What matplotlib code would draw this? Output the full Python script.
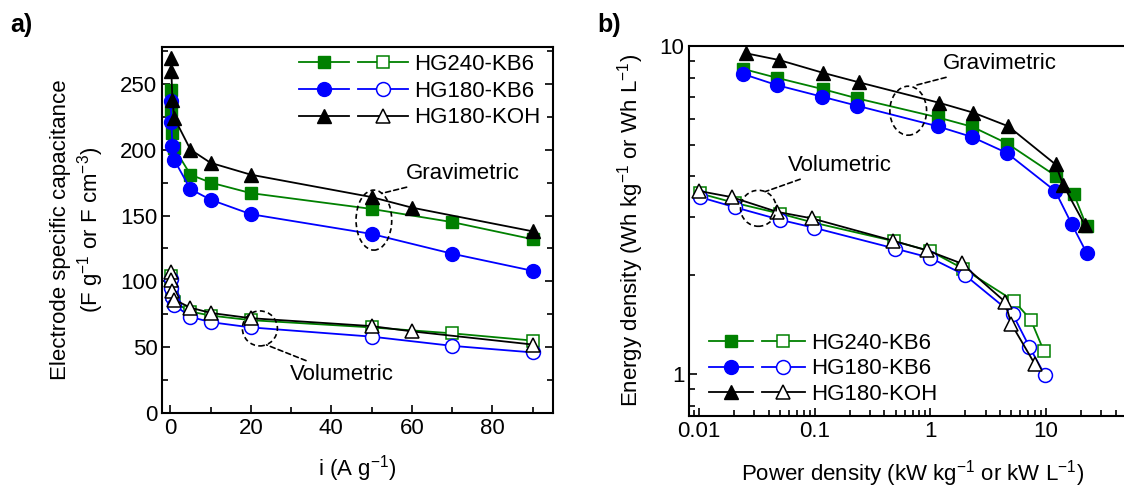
import matplotlib
matplotlib.use('Agg')
import matplotlib.pyplot as plt
from matplotlib.lines import Line2D
from matplotlib.legend_handler import HandlerTuple
from matplotlib.patches import Ellipse
from matplotlib.ticker import MultipleLocator, FuncFormatter

plt.rcParams['font.family'] = ['Liberation Sans', 'DejaVu Sans']
plt.rcParams['mathtext.default'] = 'regular'
plt.rcParams['font.size'] = 16

# ---- panel a: capacitance vs current density ----
i_kb6 = [0.1, 0.25, 0.5, 1, 5, 10, 20, 50, 70, 90]
i_koh = [0.1, 0.25, 0.5, 1, 5, 10, 20, 50, 60, 90]

grav_hg240 = [245, 230, 213, 201, 181, 175, 167, 155, 145, 132]
grav_hg180 = [237, 221, 203, 192, 170, 162, 151, 136, 121, 108]
grav_koh = [270, 260, 238, 224, 200, 190, 181, 164, 156, 138]

vol_hg240 = [104, 98, 90, 84, 77, 74, 70.5, 65, 60.5, 55]
vol_hg180 = [102, 95, 88, 82, 73, 69, 65, 58, 51, 46]
vol_koh = [107, 101, 93, 86, 80, 76, 72, 66, 62, 52]

# ---- panel b: Ragone plot ----
p_grav_hg240 = [0.024, 0.0467, 0.118, 0.233, 1.15, 2.30, 4.62, 12.2, 17.4, 22.4]
e_grav_hg240 = [8.51, 8.0, 7.38, 6.92, 6.06, 5.67, 5.04, 4.01, 3.53, 2.82]
p_grav_hg180 = [0.024, 0.0467, 0.116, 0.233, 1.15, 2.28, 4.57, 12.0, 16.6, 22.4]
e_grav_hg180 = [8.21, 7.60, 7.0, 6.57, 5.69, 5.28, 4.72, 3.61, 2.87, 2.34]
p_grav_koh = [0.0254, 0.0492, 0.118, 0.240, 1.19, 2.35, 4.71, 12.1, 14.1, 21.7]
e_grav_koh = [9.5, 9.06, 8.28, 7.75, 6.71, 6.26, 5.69, 4.35, 3.76, 2.84]

p_vol_hg240 = [0.0101, 0.0204, 0.050, 0.098, 0.48, 0.99, 1.93, 5.26, 7.38, 9.6]
e_vol_hg240 = [3.55, 3.32, 3.08, 2.89, 2.54, 2.37, 2.09, 1.67, 1.46, 1.17]
p_vol_hg180 = [0.0101, 0.0204, 0.050, 0.098, 0.493, 0.99, 1.99, 5.14, 7.16, 9.78]
e_vol_hg180 = [3.46, 3.22, 2.95, 2.79, 2.41, 2.26, 2.0, 1.52, 1.21, 0.99]
p_vol_koh = [0.010, 0.019, 0.047, 0.094, 0.47, 0.93, 1.86, 4.4, 5.0, 8.0]
e_vol_koh = [3.61, 3.46, 3.12, 2.98, 2.55, 2.38, 2.17, 1.66, 1.42, 1.07]

labels = ['HG240-KB6', 'HG180-KB6', 'HG180-KOH']
colors = ['#008000', '#0000ff', 'black']
markers = ['s', 'o', '^']
msizes = [9, 10, 10]


def plot_pair(ax, xg, yg, xv, yv, k):
    c, m, ms = colors[k], markers[k], msizes[k]
    ax.plot(xg, yg, color=c, marker=m, ms=ms, lw=1.3, mfc=c, mec=c)
    ax.plot(xv, yv, color=c, marker=m, ms=ms, lw=1.3, mfc='white', mec=c,
            mew=1.1)


def legend_handles():
    hs = []
    for k in range(3):
        c, m, ms = colors[k], markers[k], msizes[k]
        h1 = Line2D([], [], color=c, marker=m, ms=ms, lw=1.3, mfc=c, mec=c)
        h2 = Line2D([], [], color=c, marker=m, ms=ms, lw=1.3, mfc='white',
                    mec=c, mew=1.1)
        hs.append((h1, h2))
    return hs


def dashed_ellipse(ax, x, y, w, h):
    ax.add_patch(Ellipse((x, y), w, h, transform=ax.transAxes, fill=False,
                         ls=(0, (3, 2)), lw=1.2, ec='black', zorder=5))


def callout(ax, text, xy, xytext):
    ax.annotate(text, xy=xy, xycoords='axes fraction', xytext=xytext,
                textcoords='axes fraction', va='center', ha='left',
                fontsize=16,
                arrowprops=dict(arrowstyle='-', ls=(0, (3, 2)), lw=1.2,
                                color='black', shrinkA=2, shrinkB=0))


fig = plt.figure(figsize=(11.24, 4.92), dpi=100)
ax1 = fig.add_axes([0.1444, 0.1606, 0.3473, 0.7439])
ax2 = fig.add_axes([0.6133, 0.1551, 0.3974, 0.7514])

# panel a
plot_pair(ax1, i_kb6, grav_hg240, i_kb6, vol_hg240, 0)
plot_pair(ax1, i_kb6, grav_hg180, i_kb6, vol_hg180, 1)
plot_pair(ax1, i_koh, grav_koh, i_koh, vol_koh, 2)
ax1.set_xlim(-2, 95)
ax1.set_ylim(0, 278)
ax1.xaxis.set_major_locator(MultipleLocator(20))
ax1.xaxis.set_minor_locator(MultipleLocator(10))
ax1.yaxis.set_major_locator(MultipleLocator(50))
ax1.yaxis.set_minor_locator(MultipleLocator(25))
ax1.tick_params(which='both', direction='in', right=True, top=False,
                width=1.2, labelsize=16)
ax1.tick_params(which='major', length=6)
ax1.tick_params(which='minor', length=4)
for s in ax1.spines.values():
    s.set_linewidth(1.5)
ax1.set_xlabel('i (A g$^{-1}$)', fontsize=16, labelpad=10)
ax1.set_ylabel('Electrode specific capacitance\n(F g$^{-1}$ or F cm$^{-3}$)',
               fontsize=16, labelpad=10)
ax1.legend(legend_handles(), labels,
           handler_map={tuple: HandlerTuple(ndivide=None, pad=0.4)},
           loc='upper right', bbox_to_anchor=(1.02, 1.035), frameon=False,
           handlelength=4.9, handletextpad=0.3, labelspacing=0.25,
           fontsize=16)
dashed_ellipse(ax1, 0.542, 0.527, 0.0914, 0.164)
callout(ax1, 'Gravimetric', (0.562, 0.600), (0.624, 0.655))
dashed_ellipse(ax1, 0.250, 0.231, 0.0897, 0.0956)
callout(ax1, 'Volumetric', (0.267, 0.186), (0.327, 0.104))

# panel b
plot_pair(ax2, p_grav_hg240, e_grav_hg240, p_vol_hg240, e_vol_hg240, 0)
plot_pair(ax2, p_grav_hg180, e_grav_hg180, p_vol_hg180, e_vol_hg180, 1)
plot_pair(ax2, p_grav_koh, e_grav_koh, p_vol_koh, e_vol_koh, 2)
ax2.set_xscale('log')
ax2.set_yscale('log')
ax2.set_xlim(0.0082, 60)
ax2.set_ylim(0.745, 10)
ax2.set_xticks([0.01, 0.1, 1, 10])
ax2.set_yticks([1, 10])
fmt = FuncFormatter(lambda v, pos: '{:g}'.format(v))
ax2.xaxis.set_major_formatter(fmt)
ax2.yaxis.set_major_formatter(fmt)
ax2.yaxis.set_minor_formatter(FuncFormatter(lambda v, pos: ''))
ax2.tick_params(which='both', direction='in', right=False, top=False,
                width=1.2, labelsize=16)
ax2.tick_params(which='major', length=6)
ax2.tick_params(which='minor', length=4)
ax2.spines['right'].set_visible(False)
for s in ax2.spines.values():
    s.set_linewidth(1.5)
ax2.set_xlabel('Power density (kW kg$^{-1}$ or kW L$^{-1}$)', fontsize=16,
               labelpad=12)
ax2.set_ylabel('Energy density (Wh kg$^{-1}$ or Wh L$^{-1}$)', fontsize=16,
               labelpad=10)
ax2.legend(legend_handles(), labels,
           handler_map={tuple: HandlerTuple(ndivide=None, pad=0.4)},
           loc='lower left', bbox_to_anchor=(0.0, -0.025), frameon=False,
           handlelength=4.3, handletextpad=0.3, labelspacing=0.2,
           fontsize=16)
dashed_ellipse(ax2, 0.490, 0.825, 0.0822, 0.1325)
callout(ax2, 'Gravimetric', (0.509, 0.8945), (0.567, 0.953))
dashed_ellipse(ax2, 0.1545, 0.561, 0.080, 0.0974)
callout(ax2, 'Volumetric', (0.1695, 0.606), (0.2216, 0.678))

fig.text(0.009, 0.935, 'a)', fontsize=18, fontweight='bold')
fig.text(0.531, 0.935, 'b)', fontsize=18, fontweight='bold')

fig.savefig('out.png', dpi=100)
